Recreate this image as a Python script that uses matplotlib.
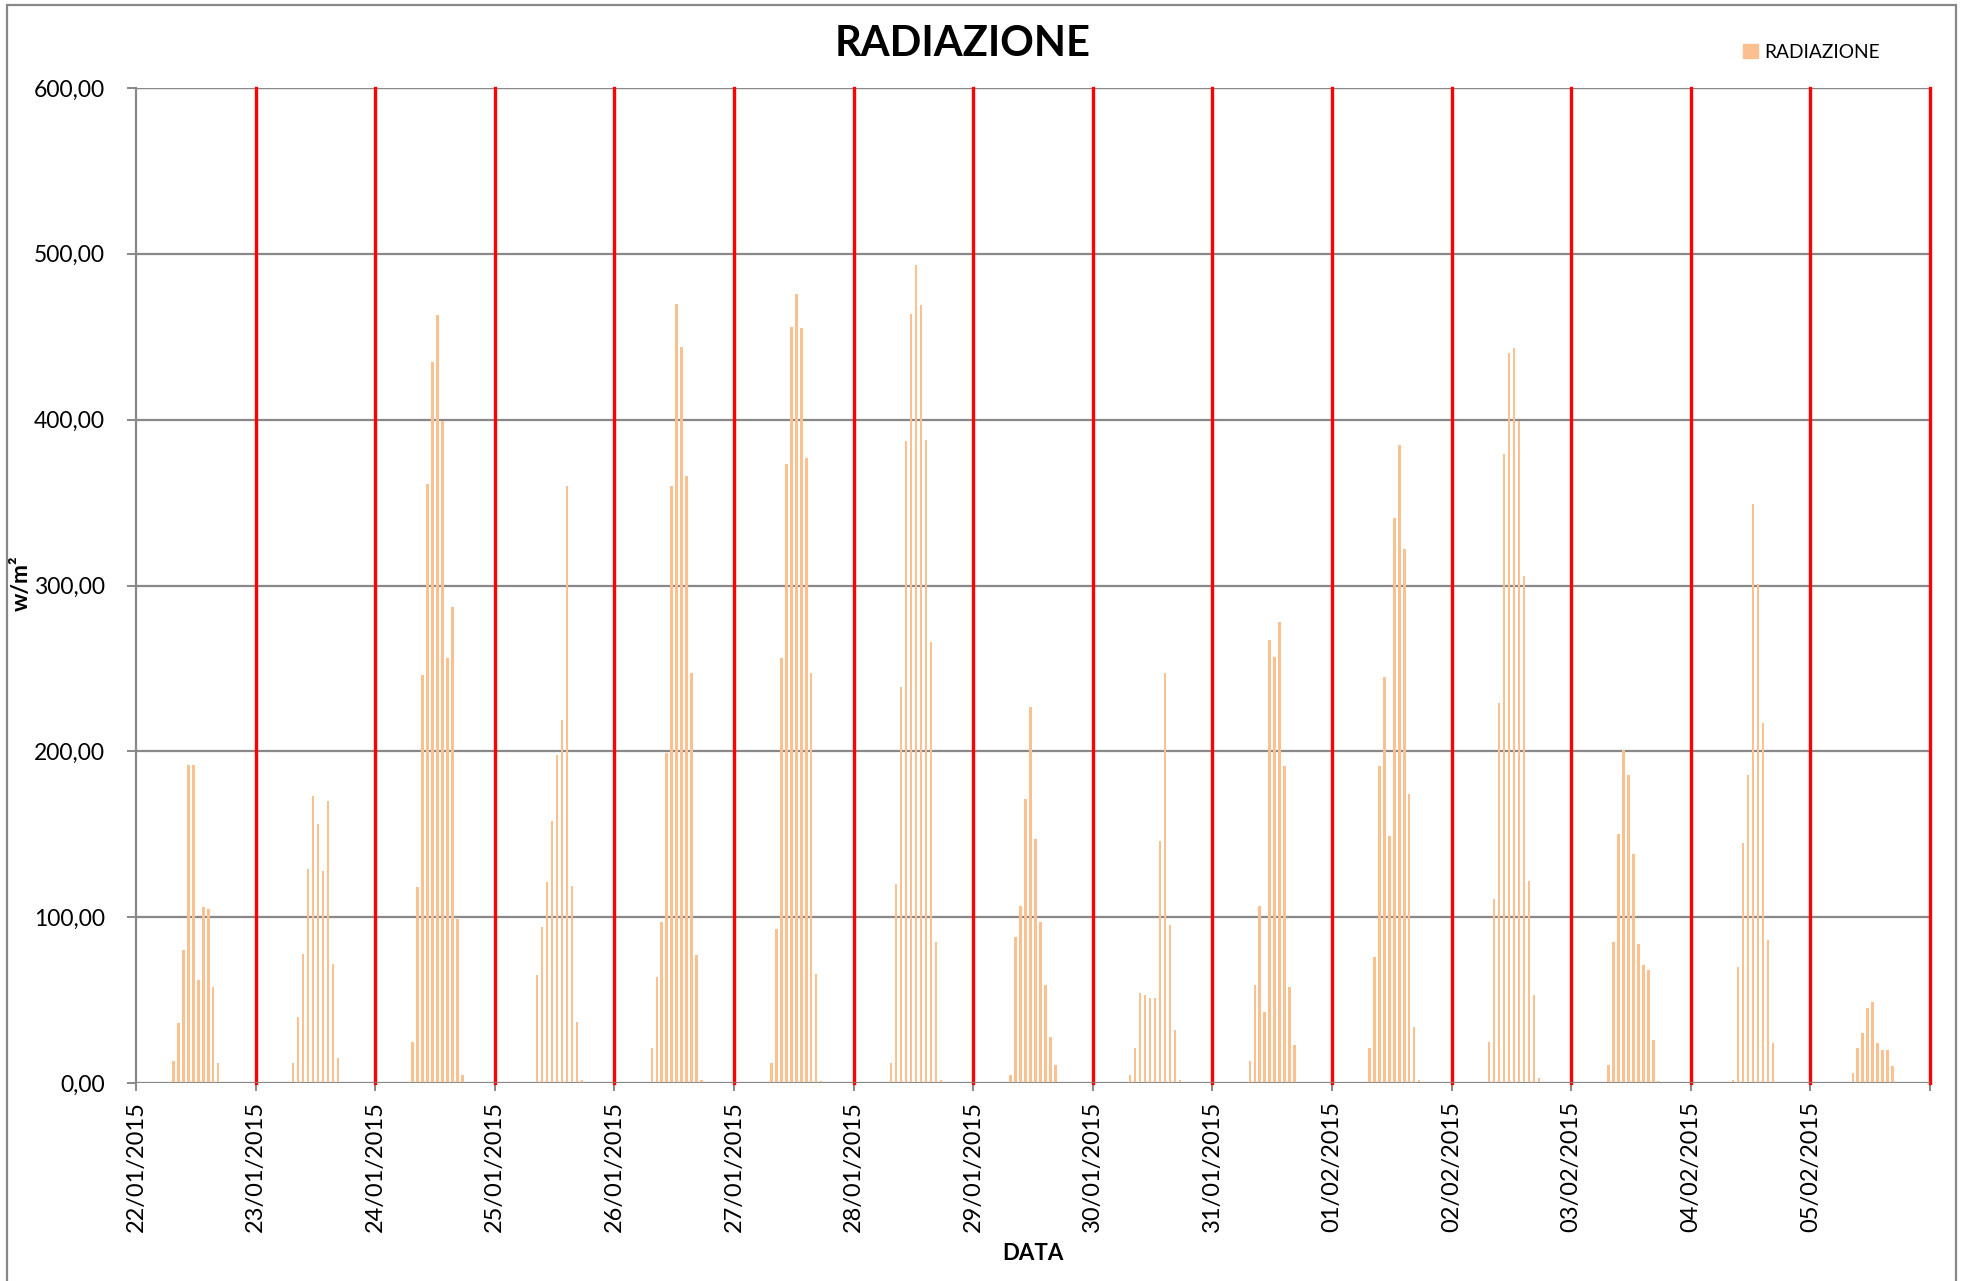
import matplotlib
matplotlib.use("Agg")
import matplotlib.pyplot as plt
from matplotlib.patches import Rectangle, Patch
from matplotlib.ticker import MultipleLocator, FuncFormatter

plt.rcParams['font.family'] = ['Lato', 'DejaVu Sans']

# giorni e dati orari di radiazione (w/m²)
giorni = ['22/01/2015', '23/01/2015', '24/01/2015', '25/01/2015', '26/01/2015',
          '27/01/2015', '28/01/2015', '29/01/2015', '30/01/2015', '31/01/2015',
          '01/02/2015', '02/02/2015', '03/02/2015', '04/02/2015', '05/02/2015']
# ora della prima misura non nulla per ogni giorno
ora_inizio = [7, 7, 7, 8, 7, 7, 7, 7, 7, 7, 7, 7, 7, 8, 8]
radiazione = [
    [13, 36, 80, 192, 192, 62, 106, 105, 58, 12],
    [12, 40, 78, 129, 173, 156, 128, 170, 72, 15],
    [25, 118, 246, 361, 435, 463, 399, 256, 287, 99, 5],
    [65, 94, 121, 158, 198, 219, 360, 119, 37, 2],
    [21, 64, 97, 199, 360, 470, 444, 366, 247, 77, 2],
    [12, 93, 256, 373, 456, 476, 455, 377, 247, 66, 1],
    [12, 120, 239, 387, 464, 493, 469, 388, 266, 85, 2],
    [5, 88, 107, 171, 227, 147, 97, 59, 28, 11],
    [5, 21, 54, 53, 51, 51, 146, 247, 95, 32, 2],
    [13, 59, 107, 43, 267, 257, 278, 191, 58, 23],
    [21, 76, 191, 245, 149, 341, 385, 322, 174, 34, 2],
    [25, 111, 229, 379, 440, 443, 399, 306, 122, 53, 3],
    [11, 85, 150, 201, 186, 138, 84, 71, 68, 26, 1],
    [2, 70, 145, 186, 349, 301, 217, 86, 24],
    [6, 21, 30, 45, 49, 24, 20, 20, 10],
]

# posizioni in ore dall'inizio del periodo
x = []
y = []
for g in range(len(giorni)):
    for i, v in enumerate(radiazione[g]):
        x.append(g * 24 + ora_inizio[g] + i + 0.5)
        y.append(v)

W, H = 1966, 1281
fig = plt.figure(figsize=(W / 100, H / 100), dpi=100)
ax = fig.add_axes([136 / W, 1 - 1083 / H, (1930 - 136) / W, (1083 - 88) / H])

grigio = '#888888'
ax.bar(x, y, width=0.5, color='#FAC090', zorder=3)

n_giorni = len(giorni) + 1
for g in range(1, n_giorni):
    ax.axvline(g * 24, color='#FF0000', lw=2.4, zorder=4, clip_on=False)

ax.set_xlim(0, (n_giorni - 1) * 24)
ax.set_ylim(0, 600)
ax.yaxis.set_major_locator(MultipleLocator(100))
ax.yaxis.set_major_formatter(FuncFormatter(lambda v, p: ('%.2f' % v).replace('.', ',')))
ax.grid(axis='y', color=grigio, lw=1.6, zorder=1)
ax.set_axisbelow(True)

ax.set_xticks([g * 24 for g in range(n_giorni)])
ax.set_xticklabels(giorni + [''], rotation=90, va='top', ha='center')

for s in ['top', 'right', 'bottom']:
    ax.spines[s].set_visible(False)
ax.spines['left'].set_color(grigio)
ax.spines['left'].set_linewidth(1.6)
ax.axhline(0, color=grigio, lw=2, zorder=5)
ax.axhline(600, color=grigio, lw=1.6, zorder=2)

ax.tick_params(axis='y', length=6.5, width=1.4, color=grigio, pad=16, labelsize=16.5)
ax.tick_params(axis='x', length=6, width=1.4, color=grigio, pad=7, labelsize=17)

fig.text(963 / W, 1 - 44 / H, 'RADIAZIONE', ha='center', va='center',
         fontsize=30, fontweight='bold')
fig.text(21 / W, 1 - 583 / H, 'w/m²', ha='center', va='center', rotation=90,
         fontsize=16.5, fontweight='bold')
fig.text(1033 / W, 1 - 1254 / H, 'DATA', ha='center', va='center',
         fontsize=16, fontweight='bold')

fig.legend(handles=[Patch(color='#FAC090', label='RADIAZIONE')], loc='center left',
           bbox_to_anchor=(1726 / W, 1 - 52 / H), frameon=False, fontsize=13.8,
           handlelength=0.75, handleheight=0.75, handletextpad=0.35)

# cornice esterna del grafico
fig.add_artist(Rectangle((7 / W, -0.02), (1956 - 7) / W, 1.02 - 5 / H,
                         transform=fig.transFigure, fill=False, ec=grigio, lw=1.6))

fig.savefig('out.png', dpi=100)
